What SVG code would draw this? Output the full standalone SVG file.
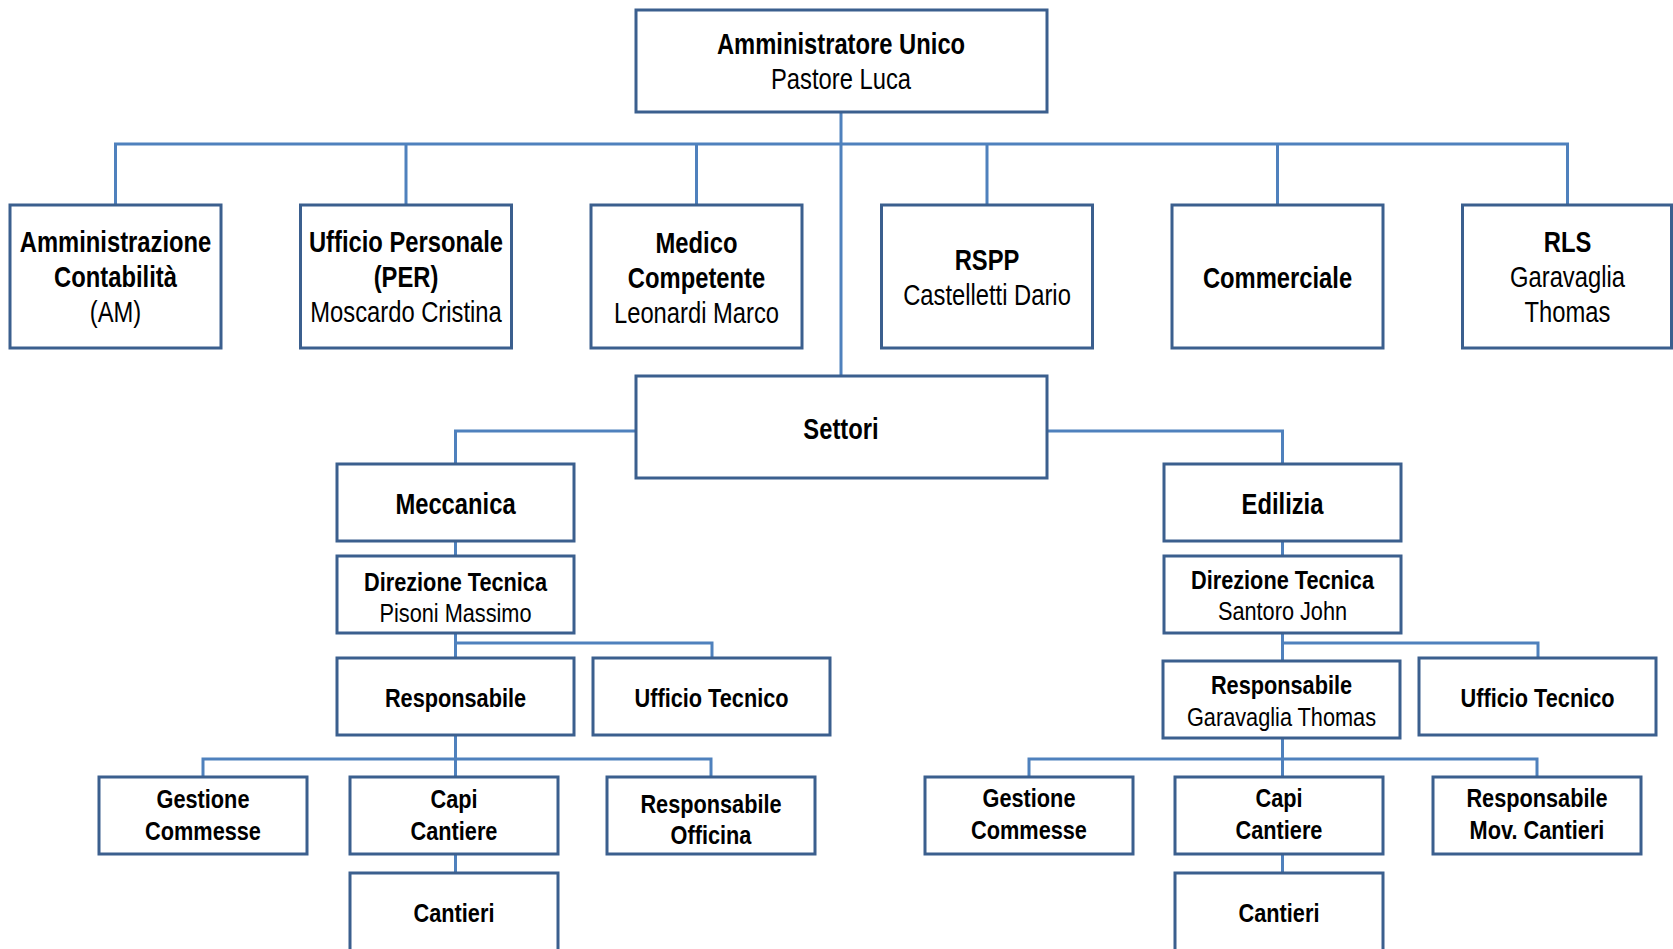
<svg xmlns="http://www.w3.org/2000/svg" width="1673" height="949" viewBox="0 0 1673 949">
<style>
.box{fill:#fff;stroke:#3B5F8E;stroke-width:3}
.con{fill:none;stroke:#4F81BD;stroke-width:3}
text{font-family:'Liberation Sans','Arial',sans-serif;text-anchor:middle;fill:#000}
.b{font-weight:bold;font-size:29px}
.r{font-size:29px}
.sb{font-weight:bold;font-size:26.5px}
.sr{font-size:26.5px}
</style>
<rect width="1673" height="949" fill="#fff"/>
<g id="connectors">
<path class="con" d="M841 112V376"/>
<path class="con" d="M115.5 205V144H1567.5V205"/>
<path class="con" d="M406 144V205M696.5 144V205M987 144V205M1277.5 144V205"/>
<path class="con" d="M636 431H455.5V464"/>
<path class="con" d="M1047 431H1282.5V464"/>
<path class="con" d="M455.5 541V556M455.5 633V658M455.5 643H712V658"/>
<path class="con" d="M455.5 735V777M203 777V759H711V777"/>
<path class="con" d="M455.5 854V873"/>
<path class="con" d="M1282.5 541V556M1282.5 633V661M1282.5 643H1538V658"/>
<path class="con" d="M1282.5 738V777M1029 777V759H1537V777"/>
<path class="con" d="M1282.5 854V873"/>
</g>
<g id="n-au"><rect class="box" x="636" y="10" width="411" height="102"/><g transform="translate(841 0) scale(0.82 1)"><text class="b" y="54">Amministratore Unico</text><text class="r" y="89">Pastore Luca</text></g></g>
<g id="n-am"><rect class="box" x="10" y="205" width="211" height="143"/><g transform="translate(115.5 0) scale(0.82 1)"><text class="b" y="252">Amministrazione</text><text class="b" y="287">Contabilità</text><text class="r" y="322">(AM)</text></g></g>
<g id="n-per"><rect class="box" x="300.5" y="205" width="211" height="143"/><g transform="translate(406 0) scale(0.82 1)"><text class="b" y="252">Ufficio Personale</text><text class="b" y="287">(PER)</text><text class="r" y="322">Moscardo Cristina</text></g></g>
<g id="n-med"><rect class="box" x="591" y="205" width="211" height="143"/><g transform="translate(696.5 0) scale(0.82 1)"><text class="b" y="253">Medico</text><text class="b" y="288">Competente</text><text class="r" y="323">Leonardi Marco</text></g></g>
<g id="n-rspp"><rect class="box" x="881.5" y="205" width="211" height="143"/><g transform="translate(987 0) scale(0.82 1)"><text class="b" y="270">RSPP</text><text class="r" y="305">Castelletti Dario</text></g></g>
<g id="n-comm"><rect class="box" x="1172" y="205" width="211" height="143"/><g transform="translate(1277.5 0) scale(0.82 1)"><text class="b" y="288">Commerciale</text></g></g>
<g id="n-rls"><rect class="box" x="1462.5" y="205" width="209" height="143"/><g transform="translate(1567.5 0) scale(0.82 1)"><text class="b" y="252">RLS</text><text class="r" y="287">Garavaglia</text><text class="r" y="322">Thomas</text></g></g>
<g id="n-settori"><rect class="box" x="636" y="376" width="411" height="102"/><g transform="translate(841 0) scale(0.82 1)"><text class="b" y="439">Settori</text></g></g>
<g id="n-mecc"><rect class="box" x="337" y="464" width="237" height="77"/><g transform="translate(455.5 0) scale(0.82 1)"><text class="b" y="514">Meccanica</text></g></g>
<g id="n-dt-m"><rect class="box" x="337" y="556" width="237" height="77"/><g transform="translate(455.5 0) scale(0.82 1)"><text class="sb" y="591">Direzione Tecnica</text><text class="sr" y="622">Pisoni Massimo</text></g></g>
<g id="n-resp-m"><rect class="box" x="337" y="658" width="237" height="77"/><g transform="translate(455.5 0) scale(0.82 1)"><text class="sb" y="707">Responsabile</text></g></g>
<g id="n-ut-m"><rect class="box" x="593" y="658" width="237" height="77"/><g transform="translate(711.5 0) scale(0.82 1)"><text class="sb" y="707">Ufficio Tecnico</text></g></g>
<g id="n-gc-m"><rect class="box" x="99" y="777" width="208" height="77"/><g transform="translate(203 0) scale(0.82 1)"><text class="sb" y="808">Gestione</text><text class="sb" y="840">Commesse</text></g></g>
<g id="n-cc-m"><rect class="box" x="350" y="777" width="208" height="77"/><g transform="translate(454 0) scale(0.82 1)"><text class="sb" y="808">Capi</text><text class="sb" y="840">Cantiere</text></g></g>
<g id="n-ro-m"><rect class="box" x="607" y="777" width="208" height="77"/><g transform="translate(711 0) scale(0.82 1)"><text class="sb" y="813">Responsabile</text><text class="sb" y="844">Officina</text></g></g>
<g id="n-can-m"><rect class="box" x="350" y="873" width="208" height="90"/><g transform="translate(454 0) scale(0.82 1)"><text class="sb" y="922">Cantieri</text></g></g>
<g id="n-edil"><rect class="box" x="1164" y="464" width="237" height="77"/><g transform="translate(1282.5 0) scale(0.82 1)"><text class="b" y="514">Edilizia</text></g></g>
<g id="n-dt-e"><rect class="box" x="1164" y="556" width="237" height="77"/><g transform="translate(1282.5 0) scale(0.82 1)"><text class="sb" y="589">Direzione Tecnica</text><text class="sr" y="620">Santoro John</text></g></g>
<g id="n-resp-e"><rect class="box" x="1163" y="661" width="237" height="77"/><g transform="translate(1281.5 0) scale(0.82 1)"><text class="sb" y="694">Responsabile</text><text class="sr" y="726">Garavaglia Thomas</text></g></g>
<g id="n-ut-e"><rect class="box" x="1419" y="658" width="237" height="77"/><g transform="translate(1537.5 0) scale(0.82 1)"><text class="sb" y="707">Ufficio Tecnico</text></g></g>
<g id="n-gc-e"><rect class="box" x="925" y="777" width="208" height="77"/><g transform="translate(1029 0) scale(0.82 1)"><text class="sb" y="807">Gestione</text><text class="sb" y="839">Commesse</text></g></g>
<g id="n-cc-e"><rect class="box" x="1175" y="777" width="208" height="77"/><g transform="translate(1279 0) scale(0.82 1)"><text class="sb" y="807">Capi</text><text class="sb" y="839">Cantiere</text></g></g>
<g id="n-rmc-e"><rect class="box" x="1433" y="777" width="208" height="77"/><g transform="translate(1537 0) scale(0.82 1)"><text class="sb" y="807">Responsabile</text><text class="sb" y="839">Mov. Cantieri</text></g></g>
<g id="n-can-e"><rect class="box" x="1175" y="873" width="208" height="90"/><g transform="translate(1279 0) scale(0.82 1)"><text class="sb" y="922">Cantieri</text></g></g>
</svg>
